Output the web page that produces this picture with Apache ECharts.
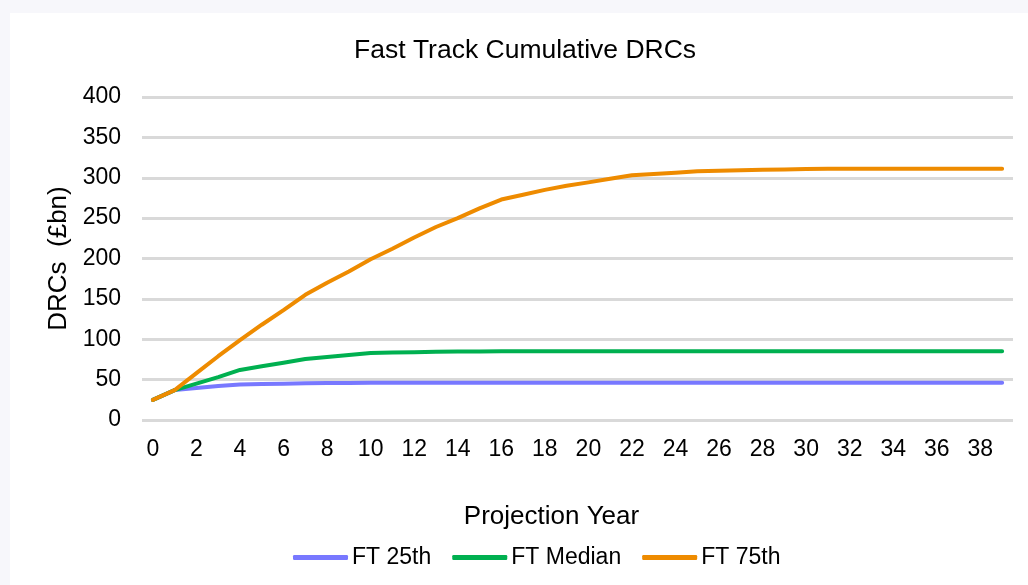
<!DOCTYPE html>
<html>
<head>
<meta charset="utf-8">
<title>Fast Track Cumulative DRCs</title>
<script src="https://cdn.jsdelivr.net/npm/echarts@6/dist/echarts.min.js"></script>
<style>
html, body {
  margin: 0;
  padding: 0;
  background: #f7f7fb;
}
.panel {
  position: absolute;
  left: 10px;
  top: 13px;
  width: 1018px;
  height: 572px;
  background: #fff;
}
#chart {
  position: absolute;
  left: 0;
  top: 0;
  width: 1028px;
  height: 585px;
}
</style>
</head>
<body>
<div class="panel"></div>
<div id="chart"></div>
<script>
// projection years 0..39
const years = []
for (let i = 0; i < 40; i++) years.push(String(i))

// cumulative DRCs (£bn)
const ft25th = [25, 37, 39.5, 42, 44, 44.5, 45, 45.5, 45.7, 45.8,
  46, 46, 46, 46, 46, 46, 46, 46, 46, 46,
  46, 46, 46, 46, 46, 46, 46, 46, 46, 46,
  46, 46, 46, 46, 46, 46, 46, 46, 46, 46]
const ftMedian = [25, 37, 45, 53, 62, 66.5, 71, 75.5, 78, 80.5,
  83, 83.5, 84, 84.5, 84.7, 84.8, 85, 85, 85, 85,
  85, 85, 85, 85, 85, 85, 85, 85, 85, 85,
  85, 85, 85, 85, 85, 85, 85, 85, 85, 85]
const ft75th = [25, 37, 58, 79, 99, 118, 136, 155, 170, 184,
  199, 212, 226, 239, 250, 262, 273, 279, 285, 290,
  294.3, 298.7, 303, 304.7, 306.3, 308, 308.7, 309.3, 310, 310.3,
  310.7, 311, 311, 311, 311, 311, 311, 311, 311, 311]

const fontFamily = `'Liberation Sans', Arial, Helvetica, sans-serif`

const chart = echarts.init(document.getElementById('chart'))

const lineSeries = (name, color, data) => ({
  name: name,
  type: 'line',
  data: data,
  symbol: 'none',
  showSymbol: false,
  smooth: false,
  color: color,
  lineStyle: {
    color: color,
    width: 4,
    cap: 'round',
    join: 'round'
  },
  emphasis: { disabled: true }
})

chart.setOption({
  animation: false,
  title: {
    text: 'Fast Track Cumulative DRCs',
    left: 349,
    top: 32,
    textStyle: {
      color: '#000',
      fontWeight: 'normal',
      fontSize: 26.5,
      fontFamily: fontFamily
    }
  },
  legend: {
    left: 288,
    top: 541,
    icon: 'roundRect',
    itemWidth: 55,
    itemHeight: 5,
    itemGap: 21,
    textStyle: {
      color: '#000',
      fontSize: 23,
      fontFamily: fontFamily,
      padding: [0, 0, 0, -1]
    },
    data: ['FT 25th', 'FT Median', 'FT 75th']
  },
  grid: {
    left: 142,
    right: 15,
    top: 97,
    bottom: 165,
    containLabel: false
  },
  xAxis: {
    type: 'category',
    data: years,
    boundaryGap: true,
    name: 'Projection Year',
    nameLocation: 'middle',
    nameGap: 84,
    nameTextStyle: {
      color: '#000',
      fontSize: 26,
      fontFamily: fontFamily,
      padding: [0, 52, 0, 0]
    },
    axisLine: { show: false },
    axisTick: { show: false },
    axisLabel: {
      interval: 1,
      margin: 18,
      color: '#000',
      fontSize: 23,
      fontFamily: fontFamily
    },
    splitLine: { show: false }
  },
  yAxis: {
    type: 'value',
    min: 0,
    max: 400,
    interval: 50,
    name: 'DRCs  (£bn)',
    nameLocation: 'middle',
    nameGap: 67,
    nameTextStyle: {
      color: '#000',
      fontSize: 26,
      fontFamily: fontFamily
    },
    axisLine: { show: false },
    axisTick: { show: false },
    axisLabel: {
      margin: 21,
      color: '#000',
      fontSize: 23,
      fontFamily: fontFamily
    },
    splitLine: {
      lineStyle: {
        color: '#d9d9d9',
        width: 3
      }
    }
  },
  series: [
    lineSeries('FT 25th', '#7878ff', ft25th),
    lineSeries('FT Median', '#00b050', ftMedian),
    lineSeries('FT 75th', '#ee8b00', ft75th)
  ]
})
</script>
</body>
</html>
